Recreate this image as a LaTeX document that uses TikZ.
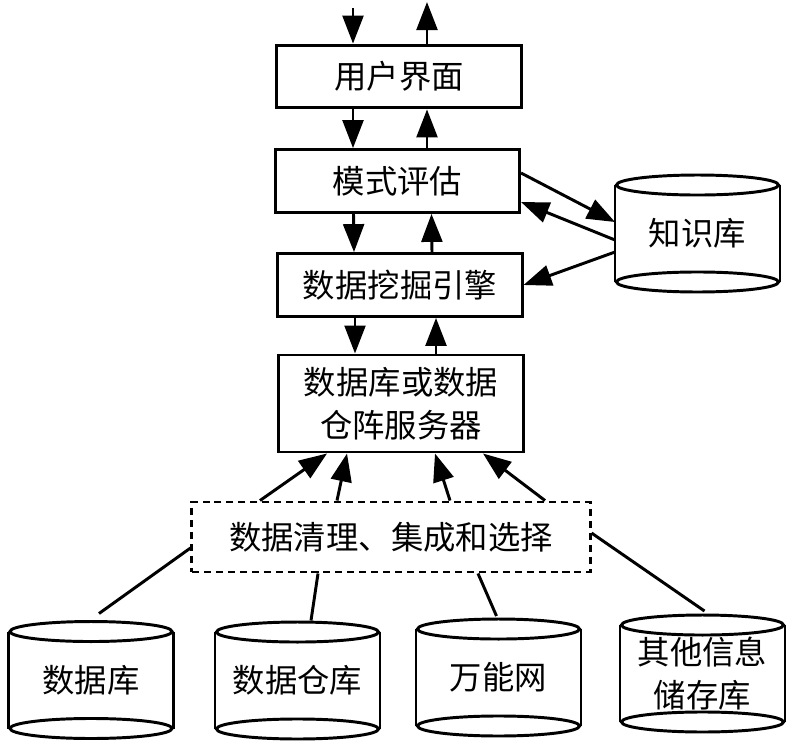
\documentclass[tikz,border=0pt]{standalone}
\usepackage{fontspec}
\setmainfont{Noto Sans CJK SC}
\usetikzlibrary{arrows.meta,calc}

\begin{document}
\begin{tikzpicture}[x=0.025cm,y=-0.025cm,line width=2.1pt,
    every node/.style={font=\fontsize{23}{31}\selectfont,align=center,inner sep=0pt},
    box/.style={draw,minimum width=6.1cm,minimum height=1.57cm},
    dashbox/.style={box,dash pattern=on 5pt off 3.5pt},
    dbcyl/.style={minimum width=4.05cm,minimum height=2.85cm},
    arr/.style={-{Triangle[length=0.7cm,width=0.52cm]}}]
    \useasboundingbox (0,0) rectangle (795,751);
    % main column
    \draw (399,76.5) node[box](ui){用户界面};
    \draw (397.5,181) node[box](eval){模式评估};
    \draw (400,285) node[box](engine){数据挖掘引擎};
    \draw (401,403.5) node[box,minimum height=2.425cm](server){数据库或数据\\仓阵服务器};
    \draw (391,537) node[dashbox,minimum width=9.95cm,minimum height=1.75cm](clean){数据清理、集成和选择};
    % stores
    \draw (697.5,233.5) node[dbcyl](kb){知识库};
    \draw (91,680) node[dbcyl](db1){数据库};
    \draw (297.5,680.5) node[dbcyl](db2){数据仓库};
    \draw (498.5,677.5) node[dbcyl](db3){万能网};
    \draw (702.5,673.5) node[dbcyl](db4){其他信息\\储存库};
    \foreach \db in {kb,db1,db2,db3,db4}{
        \draw ([yshift=-0.25cm]\db.north) ellipse [x radius=2.025cm,y radius=0.25cm];
        \draw ([yshift=0.25cm]\db.south) ellipse [x radius=2.025cm,y radius=0.25cm];
        \draw ([yshift=-0.25cm]\db.north west) -- ([yshift=0.25cm]\db.south west);
        \draw ([yshift=-0.25cm]\db.north east) -- ([yshift=0.25cm]\db.south east);
    }
    % in and out
    \coordinate (input) at (353,8);
    \coordinate (output) at (427,2);
    \draw[arr] (input) -- (input |- ui.north);
    \draw[arr] (output |- ui.north) -- (output);
    \draw[arr] (input |- ui.south) -- (input |- eval.north);
    \draw[arr] (output |- eval.north) -- (output |- ui.south);
    \draw[arr] ($(eval.south)+(-44,0)$) -- ($(engine.north)+(-46,0)$);
    \draw[arr] ($(engine.north)+(32,0)$) -- ($(eval.south)+(34,0)$);
    \draw[arr] ($(engine.south)+(-45,0)$) -- ($(server.north)+(-46,0)$);
    \draw[arr] ($(server.north)+(35,0)$) -- ($(engine.south)+(36,0)$);
    % knowledge base
    \draw[arr] ($(eval.east)+(0,-8)$) -- ($(kb.west)+(0,-11.5)$);
    \draw[arr] ($(kb.west)+(0,6.5)$) -- ($(eval.east)+(0,21)$);
    \draw[arr] ($(kb.west)+(0,18.5)$) -- (engine.east);
    % cleaning to server
    \draw[arr] ($(clean.north)+(-131,0)$) -- ($(server.south)+(-74,0)$);
    \draw[arr] ($(clean.north)+(-54,0)$) -- ($(server.south)+(-54,0)$);
    \draw[arr] ($(clean.north)+(59,0)$) -- ($(server.south)+(34,0)$);
    \draw[arr] ($(clean.north)+(154,0)$) -- ($(server.south)+(82,0)$);
    % sources to cleaning
    \draw ($(clean.west)+(0,11)$) -- ($(db1.north)+(8,-8)$);
    \draw ($(clean.south)+(-73,0)$) -- ($(db2.north)+(13.5,-1.5)$);
    \draw ($(clean.south)+(87,0)$) -- ($(db3.north)+(-2,-3)$);
    \draw ($(clean.east)+(0,-4)$) -- ($(db4.north)+(2,-4)$);
\end{tikzpicture}
\end{document}
